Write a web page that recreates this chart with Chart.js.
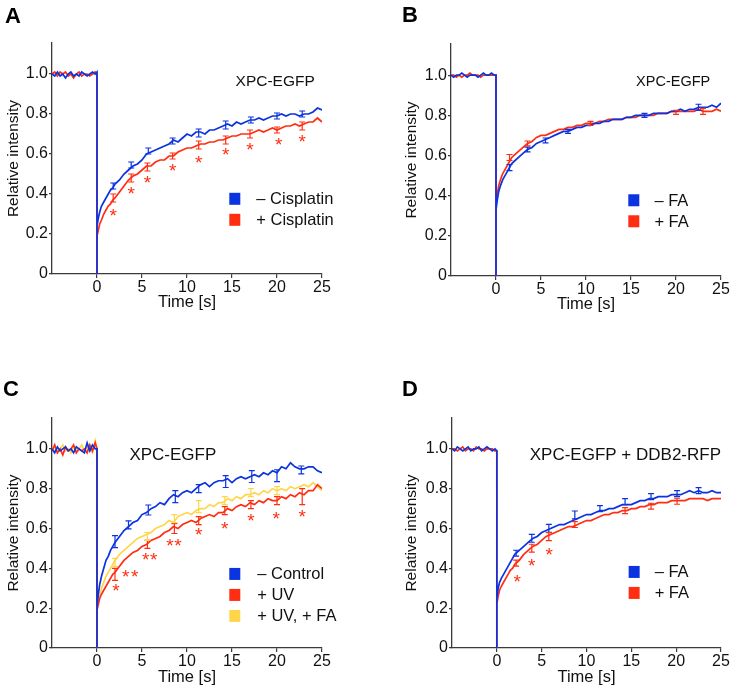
<!DOCTYPE html>
<html>
<head>
<meta charset="utf-8">
<script src="https://cdn.jsdelivr.net/npm/chart.js@4.4.1/dist/chart.umd.min.js"></script>
<style>
  html, body { margin: 0; padding: 0; background: #fff; }
  #wrap { position: relative; width: 734px; height: 690px; }
  .panel { position: absolute; }
</style>
</head>
<body>
<div id="wrap">
  <div class="panel" style="left:0;top:0"><canvas id="cA" width="367" height="320"></canvas></div>
  <div class="panel" style="left:367px;top:0"><canvas id="cB" width="367" height="320"></canvas></div>
  <div class="panel" style="left:0;top:320px"><canvas id="cC" width="367" height="370"></canvas></div>
  <div class="panel" style="left:367px;top:320px"><canvas id="cD" width="367" height="370"></canvas></div>
</div>
<script>
// time base (s): pre-bleach frames, then bleach dip + recovery
const TIME_PRE = [-5, -4.7, -4.4, -4.1, -3.8, -3.5, -3.2, -2.9, -2.6, -2.3, -2.0, -1.7, -1.4, -1.1, -0.8, -0.5, -0.2, 0];
const TIME_POST = [0, 0, 0.15, 0.3, 0.5, 0.75, 1, 1.25, 1.5, 1.75, 2,
  2.5, 3, 3.5, 4, 4.5, 5, 5.5, 6, 6.5, 7,
  7.5, 8, 8.5, 9, 9.5, 10, 10.5, 11, 11.5, 12,
  12.5, 13, 13.5, 14, 14.5, 15, 15.5, 16, 16.5, 17,
  17.5, 18, 18.5, 19, 19.5, 20, 20.5, 21, 21.5, 22,
  22.5, 23, 23.5, 24, 24.5, 25];

const X_TICKS = [0, 5, 10, 15, 20, 25];
const Y_TICKS = [0, 0.2, 0.4, 0.6, 0.8, 1.0];
const Y_LABELS = ['0', '0.2', '0.4', '0.6', '0.8', '1.0'];

// panel A: cisplatin
const A_BLUE_PRE = [1.00, 0.99, 1.01, 0.99, 1.00, 0.98, 1.00, 1.01, 0.99, 1.00, 0.99, 1.01, 1.00, 0.99, 1.00, 1.01, 1.00, 1.01];
const A_RED_PRE = [1.00, 1.01, 0.99, 1.01, 1.00, 1.01, 0.99, 1.00, 0.98, 1.00, 1.01, 0.99, 1.00, 1.00, 0.99, 1.00, 1.01, 1.00];
const A_BLUE_POST = [0, 0.24, 0.28, 0.31, 0.34, 0.36, 0.38, 0.40, 0.42, 0.43, 0.45,
  0.47, 0.50, 0.52, 0.54, 0.55, 0.57, 0.60, 0.61, 0.62, 0.63,
  0.64, 0.65, 0.67, 0.66, 0.68, 0.70, 0.69, 0.71, 0.71, 0.70,
  0.72, 0.72, 0.73, 0.74, 0.75, 0.74, 0.76, 0.75, 0.76, 0.77,
  0.77, 0.78, 0.77, 0.78, 0.79, 0.79, 0.80, 0.79, 0.80, 0.80,
  0.79, 0.80, 0.80, 0.81, 0.83, 0.82];
const A_RED_POST = [0, 0.19, 0.22, 0.25, 0.27, 0.30, 0.32, 0.34, 0.35, 0.37, 0.38,
  0.41, 0.44, 0.47, 0.49, 0.50, 0.52, 0.54, 0.54, 0.56, 0.57,
  0.57, 0.59, 0.59, 0.61, 0.62, 0.63, 0.63, 0.64, 0.65, 0.65,
  0.66, 0.66, 0.67, 0.67, 0.68, 0.69, 0.69, 0.70, 0.70, 0.70,
  0.71, 0.72, 0.71, 0.72, 0.73, 0.72, 0.73, 0.74, 0.74, 0.75,
  0.74, 0.75, 0.76, 0.76, 0.78, 0.76];
const A_BLUE_ERR = [[1.8, 0.44, 0.015], [3.8, 0.545, 0.015], [5.7, 0.615, 0.015], [8.4, 0.665, 0.015], [11.3, 0.705, 0.02],
  [14.3, 0.745, 0.02], [17.1, 0.77, 0.015], [20, 0.79, 0.015], [22.8, 0.80, 0.015]];
const A_RED_ERR = [[1.8, 0.38, 0.02], [3.8, 0.48, 0.02], [5.6, 0.535, 0.02], [8.4, 0.59, 0.015], [11.3, 0.645, 0.02],
  [14.3, 0.67, 0.02], [17, 0.70, 0.02], [20, 0.72, 0.015], [22.8, 0.74, 0.02]];
const A_STARS = [[1.8, 0.313], [3.8, 0.427], [5.6, 0.482], [8.4, 0.54], [11.3, 0.58], [14.3, 0.62], [17.0, 0.643], [20.2, 0.668], [22.8, 0.685]];

// panel B: formaldehyde
const B_BLUE_PRE = [1.00, 0.99, 1.00, 1.00, 1.01, 1.00, 0.99, 1.00, 1.00, 1.00, 0.99, 1.00, 1.01, 1.00, 1.00, 1.01, 1.00, 1.00];
const B_RED_PRE = [1.00, 1.00, 0.99, 1.00, 0.99, 1.00, 1.00, 1.01, 1.00, 1.00, 1.00, 0.99, 1.00, 1.00, 1.00, 1.00, 1.00, 1.00];
const B_BLUE_POST = [0, 0.33, 0.38, 0.42, 0.45, 0.48, 0.50, 0.52, 0.54, 0.56, 0.57,
  0.59, 0.61, 0.63, 0.64, 0.66, 0.67, 0.68, 0.69, 0.70, 0.71,
  0.72, 0.72, 0.73, 0.74, 0.74, 0.75, 0.75, 0.76, 0.76, 0.77,
  0.77, 0.78, 0.78, 0.78, 0.79, 0.79, 0.80, 0.80, 0.80, 0.80,
  0.81, 0.81, 0.81, 0.81, 0.82, 0.82, 0.83, 0.82, 0.83, 0.83,
  0.84, 0.84, 0.84, 0.85, 0.84, 0.86];
const B_RED_POST = [0, 0.36, 0.41, 0.45, 0.48, 0.51, 0.53, 0.55, 0.57, 0.59, 0.60,
  0.62, 0.64, 0.66, 0.67, 0.69, 0.70, 0.70, 0.71, 0.72, 0.73,
  0.73, 0.74, 0.74, 0.75, 0.75, 0.76, 0.76, 0.76, 0.77, 0.77,
  0.78, 0.78, 0.78, 0.78, 0.79, 0.79, 0.79, 0.80, 0.80, 0.80,
  0.80, 0.81, 0.81, 0.81, 0.82, 0.82, 0.82, 0.82, 0.82, 0.82,
  0.83, 0.82, 0.82, 0.82, 0.83, 0.82];
const B_BLUE_ERR = [[1.5, 0.54, 0.015], [3.5, 0.63, 0.012], [5.5, 0.675, 0.012], [8, 0.72, 0.01], [16.5, 0.80, 0.01], [22.5, 0.84, 0.015]];
const B_RED_ERR = [[1.5, 0.59, 0.015], [3.5, 0.66, 0.012], [10.5, 0.76, 0.01], [20, 0.815, 0.01], [23, 0.82, 0.015]];

// panel C: UV and UV + FA
const C_BLUE_PRE = [1.00, 0.98, 1.01, 0.99, 1.00, 1.01, 0.99, 1.00, 0.98, 1.01, 1.00, 0.99, 0.98, 1.03, 0.99, 1.02, 1.00, 1.00];
const C_RED_PRE = [0.99, 1.02, 0.98, 1.00, 0.97, 1.01, 0.99, 1.00, 1.02, 0.98, 1.00, 0.99, 1.00, 0.98, 1.02, 0.99, 1.03, 1.00];
const C_YELLOW_PRE = [1.01, 0.99, 0.98, 1.00, 1.02, 0.99, 1.00, 0.98, 1.01, 0.99, 1.00, 1.02, 0.99, 1.01, 1.00, 0.98, 1.04, 1.00];
const C_BLUE_POST = [0, 0.21, 0.27, 0.32, 0.36, 0.40, 0.44, 0.46, 0.49, 0.51, 0.53,
  0.56, 0.59, 0.61, 0.63, 0.64, 0.67, 0.68, 0.70, 0.71, 0.73,
  0.72, 0.75, 0.77, 0.76, 0.78, 0.79, 0.78, 0.80, 0.82, 0.83,
  0.81, 0.83, 0.84, 0.84, 0.85, 0.83, 0.85, 0.86, 0.85, 0.86,
  0.87, 0.86, 0.88, 0.87, 0.89, 0.88, 0.91, 0.90, 0.93, 0.91,
  0.90, 0.90, 0.91, 0.91, 0.89, 0.88];
const C_RED_POST = [0, 0.19, 0.22, 0.25, 0.27, 0.29, 0.31, 0.33, 0.35, 0.37, 0.38,
  0.41, 0.44, 0.46, 0.48, 0.49, 0.51, 0.52, 0.54, 0.55, 0.56,
  0.58, 0.59, 0.61, 0.60, 0.62, 0.63, 0.64, 0.63, 0.65, 0.66,
  0.67, 0.66, 0.68, 0.68, 0.70, 0.69, 0.71, 0.72, 0.71, 0.73,
  0.72, 0.74, 0.73, 0.75, 0.74, 0.74, 0.76, 0.75, 0.77, 0.76,
  0.78, 0.77, 0.79, 0.79, 0.82, 0.80];
const C_YELLOW_POST = [0, 0.20, 0.24, 0.27, 0.30, 0.33, 0.36, 0.38, 0.40, 0.42, 0.44,
  0.47, 0.49, 0.51, 0.53, 0.55, 0.56, 0.57, 0.58, 0.60, 0.61,
  0.62, 0.64, 0.63, 0.66, 0.67, 0.68, 0.67, 0.69, 0.70, 0.70,
  0.72, 0.71, 0.73, 0.73, 0.75, 0.74, 0.76, 0.75, 0.77, 0.77,
  0.78, 0.77, 0.79, 0.78, 0.80, 0.79, 0.80, 0.79, 0.81, 0.80,
  0.81, 0.82, 0.81, 0.83, 0.81, 0.79];
const C_BLUE_ERR = [[2.0, 0.534, 0.03], [3.5, 0.618, 0.02], [5.7, 0.693, 0.025], [8.7, 0.76, 0.03], [11.3, 0.80, 0.02],
  [14.3, 0.836, 0.03], [17.2, 0.861, 0.03], [20, 0.865, 0.03], [22.7, 0.894, 0.02]];
const C_RED_ERR = [[2.0, 0.37, 0.03], [5.6, 0.52, 0.02], [8.6, 0.60, 0.025], [11.3, 0.64, 0.02], [14.2, 0.69, 0.02],
  [17.1, 0.72, 0.02], [20, 0.74, 0.02], [22.8, 0.76, 0.04]];
const C_YELLOW_ERR = [[2.0, 0.43, 0.02], [5.6, 0.56, 0.02], [8.6, 0.65, 0.02], [11.3, 0.71, 0.03], [14.2, 0.74, 0.02],
  [17.1, 0.78, 0.02], [20, 0.79, 0.02]];
const C_STARS = [[2.1, 0.313], [3.2, 0.383], [4.2, 0.383], [5.4, 0.466], [6.3, 0.466], [8.1, 0.536], [9.0, 0.536],
  [11.3, 0.593], [14.2, 0.622], [17.1, 0.663], [19.9, 0.673], [22.8, 0.685]];

// panel D: XPC-EGFP + DDB2-RFP
const D_BLUE_PRE = [1.00, 0.99, 1.01, 1.00, 0.99, 1.00, 1.01, 0.99, 1.00, 1.00, 1.01, 0.99, 1.00, 1.01, 1.00, 0.99, 1.00, 0.99];
const D_RED_PRE = [1.00, 1.00, 0.99, 1.00, 1.01, 0.99, 1.00, 1.00, 0.99, 1.01, 1.00, 1.00, 0.99, 1.00, 1.00, 1.00, 0.99, 0.99];
const D_BLUE_POST = [0, 0.25, 0.30, 0.33, 0.35, 0.37, 0.39, 0.41, 0.43, 0.45, 0.47,
  0.49, 0.51, 0.53, 0.55, 0.56, 0.58, 0.59, 0.60, 0.61, 0.62,
  0.62, 0.63, 0.64, 0.65, 0.66, 0.67, 0.67, 0.68, 0.69, 0.69,
  0.70, 0.70, 0.71, 0.72, 0.72, 0.72, 0.73, 0.74, 0.74, 0.75,
  0.75, 0.76, 0.76, 0.76, 0.77, 0.77, 0.77, 0.78, 0.79, 0.78,
  0.79, 0.78, 0.78, 0.79, 0.78, 0.78];
const D_RED_POST = [0, 0.22, 0.26, 0.29, 0.31, 0.33, 0.35, 0.37, 0.39, 0.40, 0.42,
  0.44, 0.47, 0.49, 0.51, 0.52, 0.54, 0.56, 0.57, 0.58, 0.59,
  0.60, 0.61, 0.61, 0.62, 0.63, 0.64, 0.64, 0.65, 0.66, 0.67,
  0.67, 0.68, 0.68, 0.69, 0.69, 0.70, 0.70, 0.71, 0.71, 0.72,
  0.72, 0.73, 0.73, 0.73, 0.74, 0.74, 0.74, 0.74, 0.75, 0.75,
  0.75, 0.75, 0.74, 0.75, 0.75, 0.75];
const D_BLUE_ERR = [[2.15, 0.476, 0.015], [3.9, 0.551, 0.02], [5.8, 0.601, 0.02], [8.7, 0.668, 0.02], [11.5, 0.70, 0.015],
  [14.3, 0.735, 0.015], [17.2, 0.76, 0.015], [20.1, 0.775, 0.015], [22.5, 0.79, 0.015]];
const D_RED_ERR = [[2.15, 0.426, 0.015], [3.9, 0.501, 0.02], [5.8, 0.559, 0.02], [8.7, 0.62, 0.015], [14.3, 0.69, 0.015],
  [17.2, 0.712, 0.015], [20.1, 0.737, 0.015]];
const D_STARS = [[2.26, 0.358], [3.9, 0.439], [5.85, 0.492]];

const BLUE = '#0b33df';
const RED = '#ff2e12';
const YELLOW = '#ffd64a';
const AXIS = '#3a3a3a';
const FONT = "'Liberation Sans', Arial, Helvetica, sans-serif";

Chart.defaults.font.family = FONT;
Chart.defaults.color = '#111';

function buildPoints(pre, post) {
  const pts = TIME_PRE.map((t, i) => ({ x: t, y: pre[i] }));
  return pts.concat(TIME_POST.map((t, i) => ({ x: t, y: post[i] })));
}

const decorPlugin = {
  id: 'decor',
  afterDatasetsDraw(chart) {
    const o = chart.options.plugins.decor;
    const { ctx } = chart;
    const xs = chart.scales.x;
    const ys = chart.scales.y;
    ctx.save();

    // error bars
    chart.data.datasets.forEach((ds) => {
      ctx.strokeStyle = ds.borderColor;
      ctx.lineWidth = 1.2;
      (ds.errorBars || []).forEach(([t, v, e]) => {
        const px = xs.getPixelForValue(t);
        const top = ys.getPixelForValue(v + e);
        const bot = ys.getPixelForValue(v - e);
        ctx.beginPath();
        ctx.moveTo(px, top); ctx.lineTo(px, bot);
        ctx.moveTo(px - 3, top); ctx.lineTo(px + 3, top);
        ctx.moveTo(px - 3, bot); ctx.lineTo(px + 3, bot);
        ctx.stroke();
      });
    });

    // significance stars
    ctx.fillStyle = RED;
    ctx.font = '19px ' + FONT;
    ctx.textAlign = 'center';
    ctx.textBaseline = 'alphabetic';
    (o.stars || []).forEach(([t, v]) => {
      ctx.fillText('*', xs.getPixelForValue(t), ys.getPixelForValue(v) + 11);
    });

    // construct label
    ctx.fillStyle = '#111';
    ctx.font = o.title.size + 'px ' + FONT;
    ctx.textAlign = o.title.align;
    ctx.textBaseline = 'middle';
    ctx.fillText(o.title.text, xs.getPixelForValue(o.title.t), ys.getPixelForValue(o.title.v));

    // legend
    ctx.font = '16.5px ' + FONT;
    ctx.textAlign = 'left';
    o.legend.items.forEach(([label, color], i) => {
      const cy = ys.getPixelForValue(o.legend.v) + i * 21;
      ctx.fillStyle = color;
      ctx.fillRect(xs.getPixelForValue(o.legend.t), cy - 6, 11, 12);
      ctx.fillStyle = '#111';
      ctx.fillText(label, xs.getPixelForValue(o.legend.textT), cy + 1);
    });

    // panel letter
    ctx.font = 'bold 22px ' + FONT;
    ctx.textBaseline = 'alphabetic';
    ctx.fillStyle = '#000';
    ctx.fillText(o.letter.text, o.letter.x, o.letter.y);
    ctx.restore();
  }
};

function makeChart(id, cfg) {
  const datasets = cfg.series.map((s) => ({
    data: buildPoints(s.pre, s.post),
    borderColor: s.color,
    borderWidth: 1.7,
    pointRadius: 0,
    tension: 0,
    fill: false,
    order: s.order,
    errorBars: s.errs,
  }));
  return new Chart(document.getElementById(id), {
    type: 'line',
    data: { datasets },
    options: {
      responsive: false,
      animation: false,
      events: [],
      layout: { padding: { left: cfg.padLeft, top: cfg.padTop, right: cfg.padRight, bottom: 0 } },
      plugins: {
        legend: { display: false },
        tooltip: { enabled: false },
        decor: cfg.decor,
      },
      scales: {
        x: {
          type: 'linear',
          min: -5,
          max: 25,
          afterBuildTicks: (axis) => { axis.ticks = X_TICKS.map((v) => ({ value: v })); },
          afterFit: (axis) => { axis.height = cfg.xAxisH; },
          grid: { display: true, drawOnChartArea: false, drawTicks: true, tickLength: 4, color: AXIS, lineWidth: 1.2 },
          border: { display: true, color: AXIS, width: 1.3 },
          ticks: { font: { size: 16 }, padding: 0, maxRotation: 0, color: '#111' },
          title: { display: true, text: 'Time [s]', font: { size: 16.5 }, color: '#111', padding: { top: 0, bottom: cfg.xTitlePad } },
        },
        y: {
          min: 0,
          max: 1.155,
          afterBuildTicks: (axis) => { axis.ticks = Y_TICKS.map((v) => ({ value: v })); },
          afterFit: (axis) => { axis.width = cfg.yAxisW; },
          grid: { display: true, drawOnChartArea: false, drawTicks: true, tickLength: 3, color: AXIS, lineWidth: 1.2 },
          border: { display: true, color: AXIS, width: 1.3 },
          ticks: {
            font: { size: 16 },
            padding: 1,
            color: '#111',
            callback: (value) => Y_LABELS[Y_TICKS.indexOf(value)],
          },
          title: { display: true, text: 'Relative intensity', font: { size: 15.5 }, color: '#111', padding: { top: 4, bottom: 0 } },
        },
      },
    },
    plugins: [decorPlugin],
  });
}

makeChart('cA', {
  padLeft: 0, padTop: 43, padRight: 45, yAxisW: 52, xAxisH: 46, xTitlePad: 8,
  series: [
    { pre: A_BLUE_PRE, post: A_BLUE_POST, color: BLUE, order: 0, errs: A_BLUE_ERR },
    { pre: A_RED_PRE, post: A_RED_POST, color: RED, order: 1, errs: A_RED_ERR },
  ],
  decor: {
    letter: { text: 'A', x: 5, y: 23 },
    title: { text: 'XPC-EGFP', t: 24.2, v: 0.962, align: 'right', size: 15.5 },
    legend: { t: 14.7, textT: 17.7, v: 0.376, items: [['\u2013 Cisplatin', BLUE], ['+ Cisplatin', RED]] },
    stars: A_STARS,
  },
});

makeChart('cB', {
  padLeft: 31, padTop: 44, padRight: 13, yAxisW: 53, xAxisH: 44, xTitlePad: 6,
  series: [
    { pre: B_BLUE_PRE, post: B_BLUE_POST, color: BLUE, order: 0, errs: B_BLUE_ERR },
    { pre: B_RED_PRE, post: B_RED_POST, color: RED, order: 1, errs: B_RED_ERR },
  ],
  decor: {
    letter: { text: 'B', x: 35, y: 22 },
    title: { text: 'XPC-EGFP', t: 23.8, v: 0.967, align: 'right', size: 14.5 },
    legend: { t: 14.7, textT: 17.6, v: 0.377, items: [['\u2013 FA', BLUE], ['+ FA', RED]] },
    stars: [],
  },
});

makeChart('cC', {
  padLeft: 0, padTop: 98, padRight: 45, yAxisW: 52, xAxisH: 42, xTitlePad: 3,
  series: [
    { pre: C_BLUE_PRE, post: C_BLUE_POST, color: BLUE, order: 0, errs: C_BLUE_ERR },
    { pre: C_RED_PRE, post: C_RED_POST, color: RED, order: 1, errs: C_RED_ERR },
    { pre: C_YELLOW_PRE, post: C_YELLOW_POST, color: YELLOW, order: 2, errs: C_YELLOW_ERR },
  ],
  decor: {
    letter: { text: 'C', x: 3, y: 76 },
    title: { text: 'XPC-EGFP', t: 3.6, v: 0.97, align: 'left', size: 17 },
    legend: { t: 14.7, textT: 17.8, v: 0.372, items: [['\u2013 Control', BLUE], ['+ UV', RED], ['+ UV, + FA', YELLOW]] },
    stars: C_STARS,
  },
});

makeChart('cD', {
  padLeft: 31, padTop: 98, padRight: 13, yAxisW: 54, xAxisH: 42, xTitlePad: 3,
  series: [
    { pre: D_BLUE_PRE, post: D_BLUE_POST, color: BLUE, order: 0, errs: D_BLUE_ERR },
    { pre: D_RED_PRE, post: D_RED_POST, color: RED, order: 1, errs: D_RED_ERR },
  ],
  decor: {
    letter: { text: 'D', x: 35, y: 76 },
    title: { text: 'XPC-EGFP + DDB2-RFP', t: 25, v: 0.97, align: 'right', size: 17 },
    legend: { t: 14.7, textT: 17.6, v: 0.382, items: [['\u2013 FA', BLUE], ['+ FA', RED]] },
    stars: D_STARS,
  },
});
</script>
</body>
</html>
